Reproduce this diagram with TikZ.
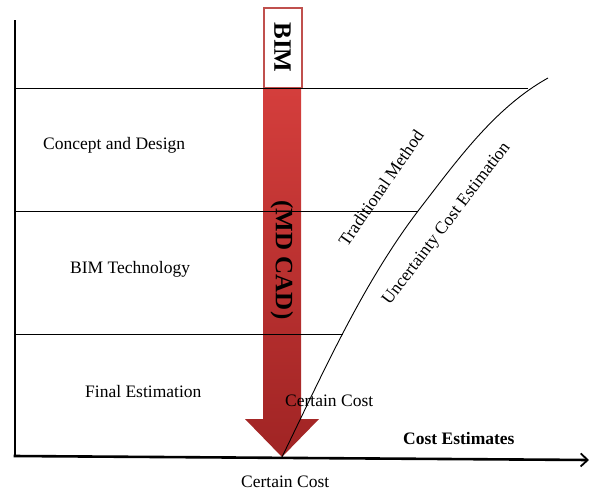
\documentclass[tikz,border=0pt]{standalone}
\usepackage{fontspec}
\setmainfont{Liberation Serif}
\usetikzlibrary{arrows.meta}
\definecolor{boxred}{RGB}{192,80,77}
\definecolor{arrtop}{RGB}{212,62,60}
\definecolor{arrbot}{RGB}{160,36,36}
\tikzset{
  lbl/.style={font=\fontsize{17.5}{20}\selectfont, inner sep=0pt},
  blbl/.style={font=\fontsize{17.5}{20}\selectfont\bfseries, inner sep=0pt},
  axis/.style={line width=2.6pt},
  band/.style={line width=0.9pt},
  curve/.style={line width=0.9pt},
}
\begin{document}
\begin{tikzpicture}[x=1pt,y=-1pt]
\useasboundingbox (0,0) rectangle (590,493);
% coordinates
\coordinate (o) at (15,456);
\coordinate (ytop) at (15,20);
\coordinate (xend) at (589,460);
\coordinate (c0) at (282,457);
\coordinate (c1) at (343,334);
\coordinate (c2) at (418,211);
\coordinate (c3) at (528,88);
\coordinate (c4) at (548,78);
\coordinate (l1) at (15,88);
\coordinate (l2) at (15,211);
\coordinate (l3) at (15,334);
% red arrow
\path[top color=arrtop, bottom color=arrbot]
  (263,88) -- (301,88) -- (301,419) -- (319,419) -- (c0) -- (245,419) -- (263,419) -- cycle;
\node[draw=boxred, line width=2pt, fill=white, minimum width=38pt, minimum height=80pt, inner sep=0pt] (bimbox) at (282.5,47.5) {};
\node[font=\fontsize{25}{28}\selectfont\bfseries, rotate=-90, inner sep=0pt] (bim) at (bimbox.center) {BIM};
\node[font=\fontsize{25}{28}\selectfont\bfseries, rotate=-90, inner sep=0pt] (mdcad) at (282,260) {(MD CAD)};
% band lines
\draw[band] (l1) -- (c3);
\draw[band] (l2) -- (c2);
\draw[band] (l3) -- (c1);
% curve
\draw[curve] (c0) .. controls (323,373) and (362,285) .. (c2)
                  .. controls (456,162) and (494,108) .. (c4);
% axes
\draw[axis] (ytop) -- (o);
\draw[axis, -{Straight Barb[length=7pt,width=13pt,line width=1.8pt]}] ([xshift=-1.3pt]o) -- (xend);
% labels
\node[lbl, anchor=base west] (cd) at (43,149) {Concept and Design};
\node[lbl, anchor=base west] (bt) at (70,273) {BIM Technology};
\node[lbl, anchor=base west] (fe) at (85,397) {Final Estimation};
\node[lbl, anchor=base west] (cc1) at (285,406) {Certain Cost};
\node[blbl, anchor=base west] (ce) at (403,444) {Cost Estimates};
\node[lbl, anchor=base west] (cc2) at (241,487) {Certain Cost};
\node[lbl, rotate=55.4] (tm) at (381,188) {Traditional Method};
\node[lbl, rotate=52.7] (uce) at (447,224) {Uncertainty Cost Estimation};
\end{tikzpicture}
\end{document}
